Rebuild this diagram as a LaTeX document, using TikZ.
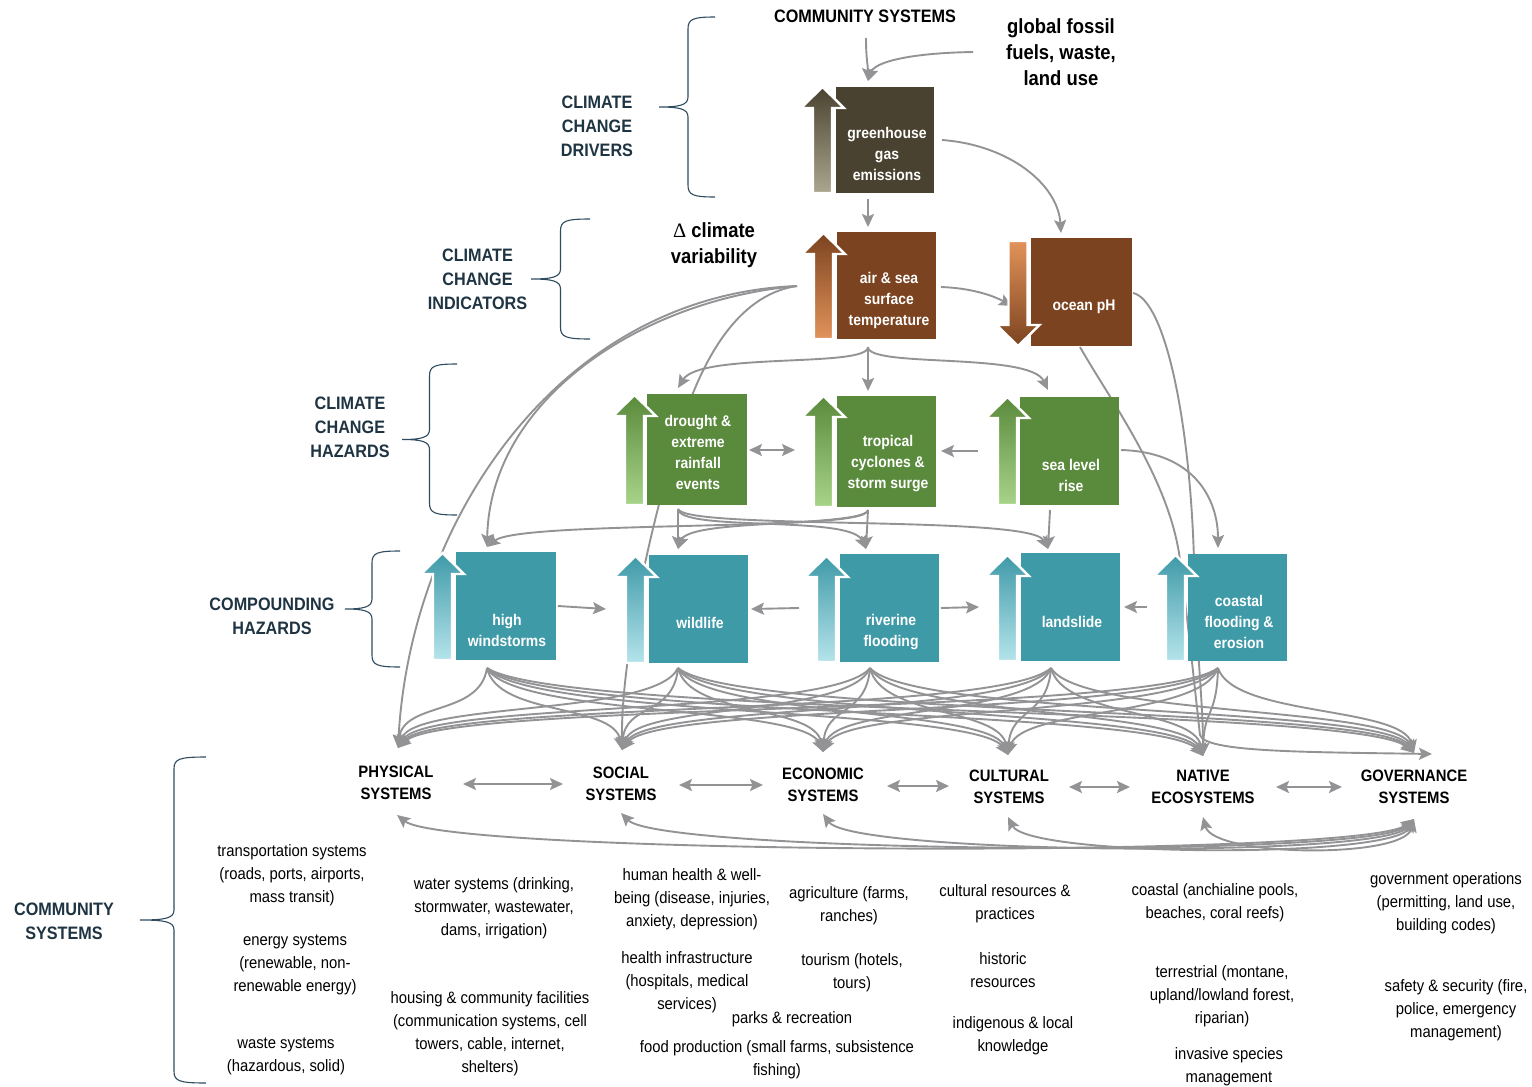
\documentclass[tikz,border=0pt]{standalone}
\usepackage{fontspec}
\setmainfont[FakeStretch=0.9]{Liberation Sans}
\newfontfamily\dserif{Liberation Serif}
\usetikzlibrary{arrows.meta,calc}
\definecolor{olv}{HTML}{4A4230}
\definecolor{olvL}{HTML}{ABA68F}
\definecolor{brn}{HTML}{7B431F}
\definecolor{brnL}{HTML}{E3935A}
\definecolor{grn}{HTML}{5A8A3C}
\definecolor{grnL}{HTML}{A8D48A}
\definecolor{tea}{HTML}{3F9AA8}
\definecolor{teaL}{HTML}{B5E4EB}
\definecolor{lgray}{HTML}{939396}
\definecolor{slate}{HTML}{1F3442}
\definecolor{brc}{HTML}{2E4B5F}
\newcommand\UpArw[5]{%
 \path[draw=white, line width=2.4pt, top color=#4, bottom color=#5]
   ({#1-9.5},#3) -- ({#1-9.5},{#2+21}) -- ({#1-21.5},{#2+21}) -- (#1,#2) -- ({#1+21.5},{#2+21}) -- ({#1+9.5},{#2+21}) -- ({#1+9.5},#3) -- cycle;}
\newcommand\DnArw[5]{%
 \path[draw=white, line width=2.4pt, top color=#4, bottom color=#5]
   ({#1-9.5},#2) -- ({#1-9.5},{#3-21}) -- ({#1-21.5},{#3-21}) -- (#1,#3) -- ({#1+21.5},{#3-21}) -- ({#1+9.5},{#3-21}) -- ({#1+9.5},#2) -- cycle;}
\newcommand\Brace[5]{%
 \pgfmathsetmacro\brmid{(#2+#3)/2}
 \draw[brace] (#5,#2) .. controls ({#1+5},#2) and (#1,{#2+2}) .. (#1,{#2+12}) -- (#1,{\brmid-10}) .. controls (#1,{\brmid-2}) and ({#1-8},\brmid) .. (#4,\brmid) .. controls ({#1-8},\brmid) and (#1,{\brmid+2}) .. (#1,{\brmid+10}) -- (#1,{#3-12}) .. controls (#1,{#3-2}) and ({#1+5},#3) .. (#5,#3);}
\begin{document}
\begin{tikzpicture}[x=1pt,y=-1pt,
 conn/.style={draw=lgray, line width=1.9pt},
 arr/.style={conn, -{Stealth[length=13pt,width=12pt,inset=2.5pt]}},
 darr/.style={conn, {Stealth[length=13pt,width=12pt,inset=2.5pt]}-{Stealth[length=13pt,width=12pt,inset=2.5pt]}},
 brace/.style={draw=brc, line width=1.1pt},
 hbox/.style={rectangle, inner sep=0, draw=none, fill=#1},
 btext/.style={text=white, font=\bfseries\fontsize{15.5}{21}\selectfont, align=center, inner sep=0},
 lab/.style={text=slate, font=\bfseries\fontsize{18}{24}\selectfont, align=center, inner sep=0},
 toplab/.style={text=black, font=\bfseries\fontsize{18}{24}\selectfont, align=center, inner sep=0},
 big/.style={text=black, font=\bfseries\fontsize{20.5}{26}\selectfont, align=center, inner sep=0},
 sys/.style={text=black, font=\bfseries\fontsize{16.5}{22}\selectfont, align=center, inner sep=0},
 desc/.style={text=black, font=\fontsize{16.5}{23}\selectfont, align=center, inner sep=0}]
\useasboundingbox (0,0) rectangle (1532,1087);

% ---------- coordinates for connector ends
\coordinate (csb) at (866,38);
\coordinate (gfl) at (973,52);
\coordinate (ght) at (868,81);
\coordinate (ghb) at (868,199);
\coordinate (ghr) at (942,140);
\coordinate (ast) at (868,227);
\coordinate (asw) at (797,286);
\coordinate (ase) at (941,287);
\coordinate (asb) at (868,347);
\coordinate (opt) at (1061,233);
\coordinate (opw) at (1012,306);
\coordinate (opr) at (1133,293);
\coordinate (opb) at (1080,347);
\coordinate (drt) at (678,388);
\coordinate (tct) at (868,391);
\coordinate (slt) at (1048,390);
\coordinate (dre) at (749,450);
\coordinate (tcw) at (795,450);
\coordinate (tce) at (941,451);
\coordinate (slw) at (978,451);
\coordinate (slr) at (1121,450);
\coordinate (drb) at (678,509);
\coordinate (tcb) at (868,510);
\coordinate (slb) at (1050,510);
\coordinate (hwt) at (487,547);
\coordinate (wlt) at (678,549);
\coordinate (rft) at (866,549);
\coordinate (lst) at (1048,549);
\coordinate (cft) at (1218,548);
\coordinate (hwe) at (558,606);
\coordinate (wlw) at (606,609);
\coordinate (wle) at (751,609);
\coordinate (rfw) at (799,608);
\coordinate (rfe) at (941,608);
\coordinate (lsw) at (979,607);
\coordinate (lse) at (1124,607);
\coordinate (cfw) at (1147,607);
\coordinate (hwb) at (487,668);
\coordinate (wlb) at (678,668);
\coordinate (rfb) at (870,668);
\coordinate (lsb) at (1051,668);
\coordinate (cfb) at (1218,668);
\coordinate (pht) at (398,748);
\coordinate (sot) at (622,750);
\coordinate (ect) at (823,752);
\coordinate (cut) at (1008,755);
\coordinate (nat) at (1203,756);
\coordinate (got) at (1414,753);
\coordinate (gol) at (1432,754);
\coordinate (phb) at (397,815);
\coordinate (sob) at (621,813);
\coordinate (ecb) at (823,814);
\coordinate (cub) at (1008,817);
\coordinate (nab) at (1203,817);
\coordinate (gob) at (1414,819);
\coordinate (phe) at (463,784);
\coordinate (sow) at (563,784);
\coordinate (soe) at (679,785);
\coordinate (ecw) at (763,785);
\coordinate (ece) at (887,786);
\coordinate (cuw) at (949,786);
\coordinate (cue) at (1069,787);
\coordinate (naw) at (1130,787);
\coordinate (nae) at (1276,787);
\coordinate (gow) at (1342,787);

% ---------- connectors
\draw[arr] (csb) .. controls (866,60) and (868,65) .. (ght);
\draw[arr] (gfl) .. controls (910,53) and (875,62) .. (ght);
\draw[arr] (ghb) -- (ast);
\draw[arr] (ghr) .. controls (1010,145) and (1058,185) .. (opt);
\draw[arr] (ase) .. controls (970,288) and (992,295) .. (opw);

\draw[arr] (asw) .. controls (640,300) and (490,400) .. (hwt);
\draw[arr] (asw) .. controls (560,295) and (410,520) .. (pht);
\draw[arr] (asw) .. controls (735,295) and (700,365) .. (680,430) .. controls (655,510) and (621,650) .. (sot);

\draw[arr] (asb) .. controls (868,368) and (700,352) .. (drt);
\draw[arr] (asb) -- (tct);
\draw[arr] (asb) .. controls (868,368) and (1030,352) .. (slt);

\draw[darr] (dre) -- (tcw);
\draw[arr] (slw) -- (tce);

\draw[arr] (drb) -- (wlt);
\draw[arr] (drb) .. controls (680,532) and (850,515) .. (rft);
\draw[arr] (drb) .. controls (685,530) and (1030,515) .. (lst);
\draw[arr] (tcb) -- (rft);
\draw[arr] (tcb) .. controls (866,532) and (520,520) .. (hwt);
\draw[arr] (tcb) .. controls (866,528) and (690,518) .. (wlt);
\draw[arr] (slb) -- (lst);
\draw[arr] (slr) .. controls (1195,452) and (1218,500) .. (cft);

\draw[arr] (opr) .. controls (1165,300) and (1190,420) .. (1194,560) .. controls (1197,660) and (1203,700) .. (nat);
\draw[arr] (opb) .. controls (1110,400) and (1170,480) .. (1180,560) .. controls (1190,640) and (1196,700) .. (1200,735) .. controls (1205,752) and (1300,752) .. (gol);

\draw[arr] (hwe) -- (wlw);
\draw[arr] (rfw) -- (wle);
\draw[arr] (rfe) -- (lsw);
\draw[arr] (cfw) -- (lse);

\foreach \h in {hwb,wlb,rfb,lsb,cfb}
  \foreach \s in {pht,sot,ect,cut,nat,got}
    \draw[arr] (\h) .. controls ($(\h)!0.08!(\s)+(0,42)$) and ($(\s)!0.06!(\h)+(0,-42)$) .. (\s);

\foreach \s in {phb,sob,ecb,cub,nab}
  \draw[darr] (gob) .. controls ($(gob)!0.05!(\s)+(0,40)$) and ($(\s)!0.05!(gob)+(0,40)$) .. (\s);

\draw[darr] (phe) -- (sow);
\draw[darr] (soe) -- (ecw);
\draw[darr] (ece) -- (cuw);
\draw[darr] (cue) -- (naw);
\draw[darr] (nae) -- (gow);

% ---------- boxes
\node[hbox=olv, minimum width=98pt, minimum height=106pt] (GH) at (885,140) {};
\node[hbox=brn, minimum width=99pt, minimum height=107pt] (AS) at (886.5,285.5) {};
\node[hbox=brn, minimum width=101pt, minimum height=108pt] (OP) at (1081.5,292) {};
\node[hbox=grn, minimum width=100pt, minimum height=111pt] (DR) at (697,449.5) {};
\node[hbox=grn, minimum width=99pt, minimum height=111pt] (TC) at (886.5,451.5) {};
\node[hbox=grn, minimum width=99pt, minimum height=108pt] (SL) at (1069.5,451) {};
\node[hbox=tea, minimum width=100pt, minimum height=108pt] (HW) at (506,606) {};
\node[hbox=tea, minimum width=99pt, minimum height=108pt] (WL) at (698.5,609) {};
\node[hbox=tea, minimum width=99pt, minimum height=108pt] (RF) at (889.5,608) {};
\node[hbox=tea, minimum width=99pt, minimum height=108pt] (LS) at (1070.5,607) {};
\node[hbox=tea, minimum width=99pt, minimum height=107pt] (CF) at (1237.5,607.5) {};

% ---------- arrow shapes
\UpArw{822.5}{87}{193}{olv}{olvL}
\UpArw{823.5}{233}{339}{brn}{brnL}
\DnArw{1018}{241}{346}{brnL}{brn}
\UpArw{634.5}{395}{505}{grn}{grnL}
\UpArw{823.5}{396}{507}{grn}{grnL}
\UpArw{1007.5}{397}{505}{grn}{grnL}
\UpArw{442.5}{553}{660}{tea}{teaL}
\UpArw{635.5}{556}{663}{tea}{teaL}
\UpArw{826.5}{556}{662}{tea}{teaL}
\UpArw{1007.5}{555}{661}{tea}{teaL}
\UpArw{1175.5}{555}{661}{tea}{teaL}

% ---------- box texts
\node[btext] (GHt) at (887,154) {greenhouse\\gas\\emissions};
\node[btext] (ASt) at (889,300) {air \& sea\\surface\\temperature};
\node[btext] (OPt) at (1084,307) {ocean pH};
\node[btext] (DRt) at (698,452) {drought \&\\extreme\\rainfall\\events};
\node[btext] (TCt) at (888,464) {tropical\\cyclones \&\\storm surge};
\node[btext] (SLt) at (1071,475) {sea level\\rise};
\node[btext] (HWt) at (507,630) {high\\windstorms};
\node[btext] (WLt) at (700,623) {wildlife};
\node[btext] (RFt) at (891,632) {riverine\\flooding};
\node[btext] (LSt) at (1072,622) {landslide};
\node[btext] (CFt) at (1239,622) {coastal\\flooding \&\\erosion};

% ---------- labels and braces
\node[toplab] (CS) at (865,16) {COMMUNITY SYSTEMS};
\node[big] (GF) at (1061,52) {global fossil\\fuels, waste,\\land use};
\node[big] (DCV) at (714,245) {{\dserif\mdseries Δ} climate\\variability};

\node[lab] (lDrv) at (597,126) {CLIMATE\\CHANGE\\DRIVERS};
\node[lab] (lInd) at (477.5,279) {CLIMATE\\CHANGE\\INDICATORS};
\node[lab] (lHaz) at (350,427.5) {CLIMATE\\CHANGE\\HAZARDS};
\node[lab] (lCmp) at (272,616) {COMPOUNDING\\HAZARDS};
\node[lab] (lCom) at (64,921) {COMMUNITY\\SYSTEMS};

\Brace{688}{17}{197}{659}{715}
\Brace{560.5}{219}{339}{531}{590}
\Brace{429.5}{364}{515}{402}{457}
\Brace{372}{551}{667}{345}{400}
\Brace{174}{757}{1083}{140}{206}

% ---------- systems
\node[sys] (PH) at (396,783) {PHYSICAL\\SYSTEMS};
\node[sys] (SO) at (621,784) {SOCIAL\\SYSTEMS};
\node[sys] (EC) at (823,785) {ECONOMIC\\SYSTEMS};
\node[sys] (CU) at (1009,787) {CULTURAL\\SYSTEMS};
\node[sys] (NA) at (1203,787) {NATIVE\\ECOSYSTEMS};
\node[sys] (GO) at (1414,787) {GOVERNANCE\\SYSTEMS};

% ---------- descriptions
\node[desc] (d1) at (292,875) {transportation systems\\(roads, ports, airports,\\mass transit)};
\node[desc] (d2) at (295,965) {energy systems\\(renewable, non-\\renewable energy)};
\node[desc] (d3) at (286,1056) {waste systems\\(hazardous, solid)};
\node[desc] (d4) at (494,908) {water systems (drinking,\\stormwater, wastewater,\\dams, irrigation)};
\node[desc] (d5) at (490,1033.5) {housing \& community facilities\\(communication systems, cell\\towers, cable, internet,\\shelters)};
\node[desc] (d6) at (692,899) {human health \& well-\\being (disease, injuries,\\anxiety, depression)};
\node[desc] (d7) at (687,982) {health infrastructure\\(hospitals, medical\\services)};
\node[desc] (d8) at (792,1019) {parks \& recreation};
\node[desc] (d9) at (777,1060) {food production (small farms, subsistence\\fishing)};
\node[desc] (d10) at (849,906) {agriculture (farms,\\ranches)};
\node[desc] (d11) at (852,973) {tourism (hotels,\\tours)};
\node[desc] (d12) at (1005,904) {cultural resources \&\\practices};
\node[desc] (d13) at (1003,970) {historic\\resources};
\node[desc] (d14) at (1013,1035.5) {indigenous \& local\\knowledge};
\node[desc] (d15) at (1215,902.5) {coastal (anchialine pools,\\beaches, coral reefs)};
\node[desc] (d16) at (1222,996.5) {terrestrial (montane,\\upland/lowland forest,\\riparian)};
\node[desc] (d17) at (1229,1067) {invasive species\\management};
\node[desc] (d18) at (1446,903.5) {government operations\\(permitting, land use,\\building codes)};
\node[desc] (d19) at (1456,1010) {safety \& security (fire,\\police, emergency\\management)};
\end{tikzpicture}
\end{document}
